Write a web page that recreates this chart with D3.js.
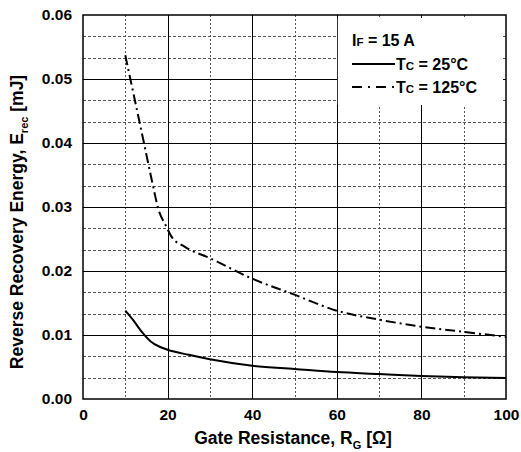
<!DOCTYPE html>
<html>
<head>
<meta charset="utf-8">
<script src="https://cdn.jsdelivr.net/npm/d3@7"></script>
<style>
  body { margin: 0; background: #fff; }
  text { font-family: Arial, "Liberation Sans", sans-serif; font-weight: bold; fill: #000; }
</style>
</head>
<body>
<svg id="canvas" width="521" height="452"></svg>
<script>
// gate resistance [ohm] and Erec [mJ]
let rg25 = [10, 12, 14, 16, 18, 20, 25, 30, 40, 50, 60, 70, 80, 90, 100]
let erec25 = [0.0138, 0.0122, 0.0104, 0.0090, 0.0082, 0.0077, 0.0069, 0.0062, 0.0052, 0.0047, 0.0042, 0.0039, 0.0036, 0.0034, 0.0033]

let rg125 = [10, 12, 14, 16, 18, 19.5, 21, 24, 30, 40, 50, 60, 70, 80, 90, 100]
let erec125 = [0.0537, 0.0475, 0.0413, 0.0350, 0.0293, 0.0272, 0.0253, 0.0238, 0.0220, 0.0188, 0.0163, 0.0138, 0.0124, 0.0113, 0.0105, 0.0097]

let xTicks = [0, 20, 40, 60, 80, 100]
let yTicks = [0, 0.01, 0.02, 0.03, 0.04, 0.05, 0.06]

let canvas = d3.select('#canvas')
let mLeft = 83, mRight = 506, mTop = 15, mBottom = 399
let font = 'Arial, "Liberation Sans", sans-serif'

let x = d3.scaleLinear().domain([0, 100]).range([mLeft, mRight])
let y = d3.scaleLinear().domain([0, 0.06]).range([mBottom, mTop])
let px = v => Math.round(v) + 0.5

// minor dotted grid
let xMinor = d3.range(10, 100, 20)
let yMinor = []
for (let i = 0; i < 6; i++) {
    yMinor.push(i * 0.01 + 0.01 / 3, i * 0.01 + 0.02 / 3)
}
canvas.append('g').selectAll('line').data(xMinor).enter().append('line')
    .attr('x1', d => px(x(d))).attr('x2', d => px(x(d)))
    .attr('y1', mTop).attr('y2', mBottom)
    .attr('stroke', '#555').attr('stroke-width', 1).attr('stroke-dasharray', '2,2')
canvas.append('g').selectAll('line').data(yMinor).enter().append('line')
    .attr('x1', mLeft).attr('x2', mRight)
    .attr('y1', d => px(y(d))).attr('y2', d => px(y(d)))
    .attr('stroke', '#555').attr('stroke-width', 1).attr('stroke-dasharray', '3,2')

// major solid grid
canvas.append('g').selectAll('line').data(xTicks.slice(1, -1)).enter().append('line')
    .attr('x1', d => px(x(d))).attr('x2', d => px(x(d)))
    .attr('y1', mTop).attr('y2', mBottom)
    .attr('stroke', '#000').attr('stroke-width', 1)
canvas.append('g').selectAll('line').data(yTicks.slice(1, -1)).enter().append('line')
    .attr('x1', mLeft).attr('x2', mRight)
    .attr('y1', d => px(y(d))).attr('y2', d => px(y(d)))
    .attr('stroke', '#000').attr('stroke-width', 1)

// legend background covers the grid
canvas.append('rect')
    .attr('x', x(60) + 1).attr('y', mTop + 3)
    .attr('width', mRight - x(60) - 4).attr('height', 87)
    .attr('fill', '#fff')

// frame
canvas.append('rect')
    .attr('x', mLeft).attr('y', mTop)
    .attr('width', mRight - mLeft).attr('height', mBottom - mTop)
    .attr('fill', 'none').attr('stroke', '#000').attr('stroke-width', 1.5)

// axes labels
let xAxis = d3.axisBottom(x).tickValues(xTicks).tickSize(0).tickPadding(10)
let gx = canvas.append('g').attr('transform', `translate(0,${mBottom})`).call(xAxis)
gx.select('.domain').remove()
gx.selectAll('text').style('font-size', '15.5px').style('font-family', font).style('font-weight', 'bold')

let yAxis = d3.axisLeft(y).tickValues(yTicks).tickFormat(d3.format('.2f')).tickSize(0).tickPadding(11)
let gy = canvas.append('g').attr('transform', `translate(${mLeft},0)`).call(yAxis)
gy.select('.domain').remove()
gy.selectAll('text').style('font-size', '15.5px').style('font-family', font).style('font-weight', 'bold')

// curves
let line = d3.line().x(d => x(d[0])).y(d => y(d[1])).curve(d3.curveMonotoneX)
canvas.append('path')
    .attr('d', line(d3.zip(rg25, erec25)))
    .attr('fill', 'none').attr('stroke', '#000').attr('stroke-width', 2)
canvas.append('path')
    .attr('d', line(d3.zip(rg125, erec125)))
    .attr('fill', 'none').attr('stroke', '#000').attr('stroke-width', 2)
    .attr('stroke-dasharray', '10,4,2,4')

// legend
let lg = canvas.append('g')
let t1 = lg.append('text').attr('x', 352).attr('y', 46).style('font-size', '16px')
t1.append('tspan').text('I')
t1.append('tspan').style('font-size', '11.5px').text('F')
t1.append('tspan').text(' = 15 A')

lg.append('line').attr('x1', 352).attr('x2', 395).attr('y1', 64).attr('y2', 64)
    .attr('stroke', '#000').attr('stroke-width', 2)
let t2 = lg.append('text').attr('x', 396).attr('y', 70).style('font-size', '16px')
t2.append('tspan').text('T')
t2.append('tspan').style('font-size', '11.5px').text('C')
t2.append('tspan').text(' = 25°C')

lg.append('line').attr('x1', 352).attr('x2', 396).attr('y1', 87).attr('y2', 87)
    .attr('stroke', '#000').attr('stroke-width', 2).attr('stroke-dasharray', '10,6,2,6')
let t3 = lg.append('text').attr('x', 396).attr('y', 93).style('font-size', '16px')
t3.append('tspan').text('T')
t3.append('tspan').style('font-size', '11.5px').text('C')
t3.append('tspan').text(' = 125°C')

// axis titles
let xt = canvas.append('text').attr('x', 293).attr('y', 444)
    .attr('text-anchor', 'middle').style('font-size', '17.5px')
xt.append('tspan').text('Gate Resistance, R')
xt.append('tspan').style('font-size', '11px').attr('dy', 5).text('G')
xt.append('tspan').attr('dy', -5).text(' [Ω]')

let yt = canvas.append('text')
    .attr('transform', 'translate(23,222) rotate(-90)')
    .attr('text-anchor', 'middle').style('font-size', '17.5px')
yt.append('tspan').text('Reverse Recovery Energy, E')
yt.append('tspan').style('font-size', '11px').attr('dy', 5).text('rec')
yt.append('tspan').attr('dy', -5).text(' [mJ]')
</script>
</body>
</html>
